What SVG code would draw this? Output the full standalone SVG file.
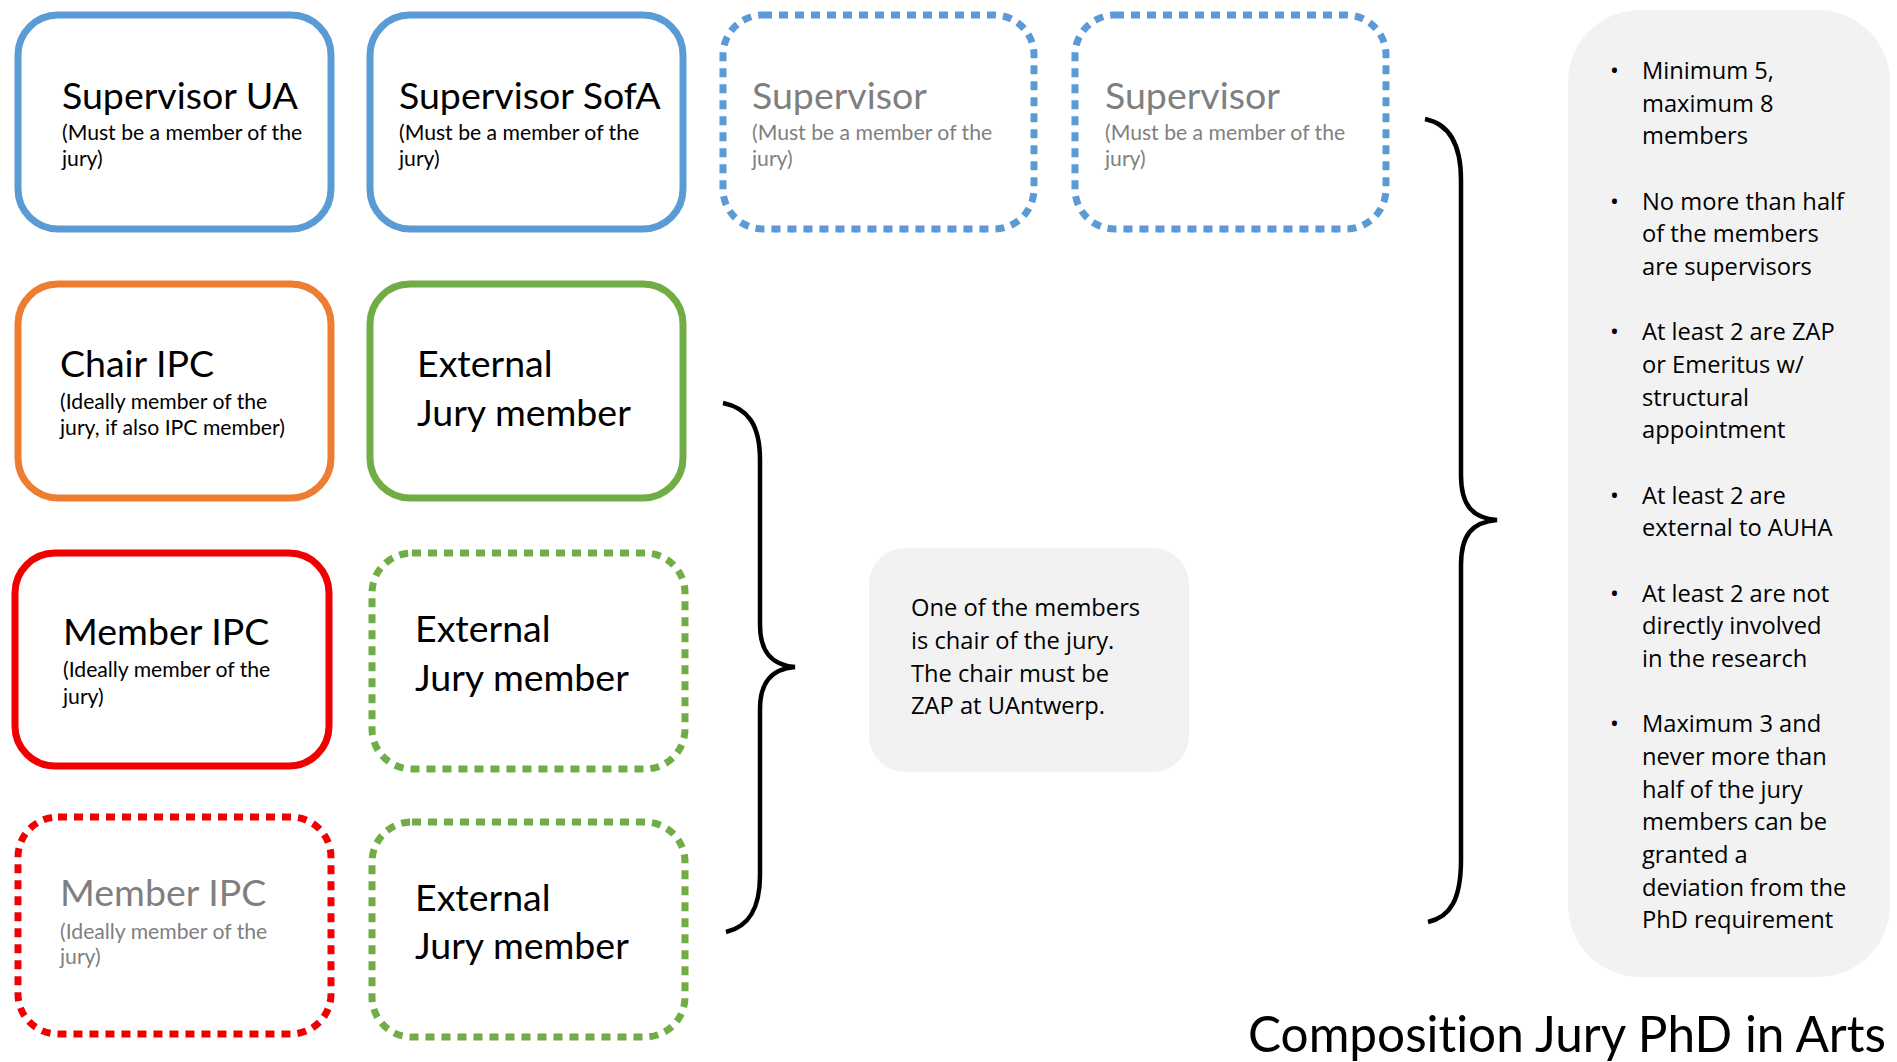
<svg xmlns="http://www.w3.org/2000/svg" width="1897" height="1062" viewBox="0 0 1897 1062">
<style>
.box{fill:#fff;stroke-width:7}
.dot{stroke-dasharray:9 7}
.blue{stroke:#5B9BD5}
.orange{stroke:#ED7D31}
.green{stroke:#70AD47}
.red{stroke:#F00000}
.t{font-family:Lato,"Liberation Sans",sans-serif;fill:#000;font-variant-ligatures:none}
.big{font-size:37.5px}
.small{font-size:21.2px}
.gray{fill:#7F7F7F}
.note{font-family:"Open Sans","Noto Sans",sans-serif;font-size:23.7px;fill:#000}
.panel{fill:#F2F2F2}
.brace{fill:none;stroke:#000;stroke-width:4.5}
</style>
<rect width="1897" height="1062" fill="#fff"/>
<g id="sup-ua">
<rect class="box blue" x="18" y="15" width="313" height="214" rx="40"/>
<text class="t big" x="62" y="109">Supervisor UA</text>
<text class="t small" x="62" y="140">(Must be a member of the</text>
<text class="t small" x="62" y="166">jury)</text>
</g>
<g id="sup-sofa">
<rect class="box blue" x="370" y="15" width="313" height="214" rx="40"/>
<text class="t big" x="399" y="109">Supervisor SofA</text>
<text class="t small" x="399" y="140">(Must be a member of the</text>
<text class="t small" x="399" y="166">jury)</text>
</g>
<g id="sup-3">
<rect class="box blue dot" x="723" y="15" width="311" height="214" rx="40"/>
<text class="t big gray" x="752" y="109">Supervisor</text>
<text class="t small gray" x="752" y="140">(Must be a member of the</text>
<text class="t small gray" x="752" y="166">jury)</text>
</g>
<g id="sup-4">
<rect class="box blue dot" x="1075" y="15" width="311" height="214" rx="40"/>
<text class="t big gray" x="1105" y="109">Supervisor</text>
<text class="t small gray" x="1105" y="140">(Must be a member of the</text>
<text class="t small gray" x="1105" y="166">jury)</text>
</g>
<g id="chair-ipc">
<rect class="box orange" x="18" y="284" width="313" height="214" rx="40"/>
<text class="t big" x="60" y="377">Chair IPC</text>
<text class="t small" x="60" y="409">(Ideally member of the</text>
<text class="t small" x="60" y="435">jury, if also IPC member)</text>
</g>
<g id="ext-1">
<rect class="box green" x="370" y="284" width="313" height="214" rx="40"/>
<text class="t big" x="417" y="377">External</text>
<text class="t big" x="417" y="426">Jury member</text>
</g>
<g id="member-ipc">
<rect class="box red" x="15" y="553" width="314" height="213" rx="40"/>
<text class="t big" x="63" y="645">Member IPC</text>
<text class="t small" x="63" y="677">(Ideally member of the</text>
<text class="t small" x="63" y="704">jury)</text>
</g>
<g id="ext-2">
<rect class="box green dot" x="372" y="553" width="313" height="216" rx="40"/>
<text class="t big" x="415" y="642">External</text>
<text class="t big" x="415" y="691">Jury member</text>
</g>
<g id="member-ipc-2">
<rect class="box red dot" x="18" y="817" width="313" height="217" rx="40"/>
<text class="t big gray" x="60" y="906">Member IPC</text>
<text class="t small gray" x="60" y="939">(Ideally member of the</text>
<text class="t small gray" x="60" y="964">jury)</text>
</g>
<g id="ext-3">
<rect class="box green dot" x="372" y="822" width="313" height="215" rx="40"/>
<text class="t big" x="415" y="911">External</text>
<text class="t big" x="415" y="959">Jury member</text>
</g>
<g id="connectors">
<path class="brace" d="M723,403 C748,408 760,425 760,460 L760,625 C760,650 770,665 795,667 C770,669 760,684 760,709 L760,875 C760,910 748,927 726,932"/>
<path class="brace" d="M1425,119 C1450,124 1461,145 1461,180 L1461,475 C1461,505 1472,518 1497,520 C1472,522 1461,535 1461,565 L1461,860 C1461,900 1450,917 1428,922"/>
</g>
<g id="chair-note">
<rect class="panel" x="869" y="548" width="320" height="224" rx="36"/>
<text class="note" x="911" y="616">One of the members</text>
<text class="note" x="911" y="649">is chair of the jury.</text>
<text class="note" x="911" y="682">The chair must be</text>
<text class="note" x="911" y="714">ZAP at UAntwerp.</text>
</g>
<g id="rules">
<rect class="panel" x="1568" y="10" width="322" height="967" rx="72"/>
<g class="note">
<text x="1610" y="79">•</text><text x="1642" y="79">Minimum 5,</text>
<text x="1642" y="111.7">maximum 8</text>
<text x="1642" y="144.3">members</text>
<text x="1610" y="209.7">•</text><text x="1642" y="209.7">No more than half</text>
<text x="1642" y="242.3">of the members</text>
<text x="1642" y="275">are supervisors</text>
<text x="1610" y="340.4">•</text><text x="1642" y="340.4">At least 2 are ZAP</text>
<text x="1642" y="373">or Emeritus w/</text>
<text x="1642" y="405.7">structural</text>
<text x="1642" y="438.4">appointment</text>
<text x="1610" y="503.7">•</text><text x="1642" y="503.7">At least 2 are</text>
<text x="1642" y="536.4">external to AUHA</text>
<text x="1610" y="601.7">•</text><text x="1642" y="601.7">At least 2 are not</text>
<text x="1642" y="634.4">directly involved</text>
<text x="1642" y="667">in the research</text>
<text x="1610" y="732.4">•</text><text x="1642" y="732.4">Maximum 3 and</text>
<text x="1642" y="765">never more than</text>
<text x="1642" y="797.7">half of the jury</text>
<text x="1642" y="830.4">members can be</text>
<text x="1642" y="863">granted a</text>
<text x="1642" y="895.7">deviation from the</text>
<text x="1642" y="928.4">PhD requirement</text>
</g>
</g>
<g id="title">
<text class="t" x="1248" y="1052" font-size="49.5">Composition Jury PhD in Arts</text>
</g>
</svg>
